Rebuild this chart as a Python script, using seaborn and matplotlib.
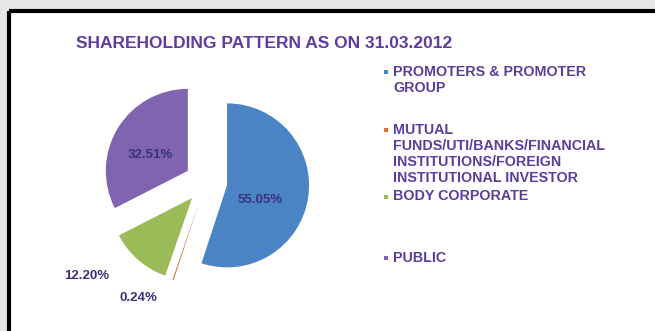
import matplotlib
matplotlib.use("Agg")
import matplotlib.pyplot as plt
import seaborn as sns
from matplotlib.patches import Rectangle

sns.set_theme(style="white")
plt.rcParams["font.family"] = ["Liberation Sans", "DejaVu Sans"]

# Shareholding categories and their percentages
categories = [
    "PROMOTERS & PROMOTER\nGROUP",
    "MUTUAL\nFUNDS/UTI/BANKS/FINANCIAL\nINSTITUTIONS/FOREIGN\nINSTITUTIONAL INVESTOR",
    "BODY CORPORATE",
    "PUBLIC",
]
shares = [55.05, 0.24, 12.20, 32.51]
colors = ["#4a84c4", "#e0733a", "#9bbb59", "#8064b0"]
title = "SHAREHOLDING PATTERN AS ON 31.03.2012"

W, H = 655, 331
fig = plt.figure(figsize=(W / 100, H / 100), dpi=100)
fig.patch.set_facecolor("#e6e6e6")

# white panel with a heavy black edge on top and left
fig.patches.append(Rectangle((10 / W, 0), 1, 1 - 11 / H, transform=fig.transFigure,
                             facecolor="white", edgecolor="none", zorder=-5))
fig.add_artist(plt.Line2D([9 / W, 1], [1 - 11 / H, 1 - 11 / H], color="black", lw=3,
                          transform=fig.transFigure, solid_capstyle="butt", zorder=-4))
fig.add_artist(plt.Line2D([9 / W, 9 / W], [0, 1 - 11 / H], color="black", lw=3,
                          transform=fig.transFigure, solid_capstyle="butt", zorder=-4))

# pie axes: one data unit equals the pie radius in pixels
R = 82.0
cx, cy = 206.0, 182.0
ax = fig.add_axes([0, 0, 1, 1], zorder=2)
ax.patch.set_alpha(0)

wedges, texts, autotexts = ax.pie(
    shares, colors=colors, startangle=90, counterclock=False,
    explode=[0.26] * len(shares), autopct="%.2f%%", pctdistance=0.5,
    wedgeprops=dict(linewidth=0),
    textprops=dict(color="#3a327e", fontsize=9.5, fontweight="bold"),
)
ax.set_aspect("auto")
ax.set_xlim(-cx / R, (W - cx) / R)
ax.set_ylim(-(H - cy) / R, cy / R)
ax.axis("off")

label_pos = [(0.66, -0.22), (-0.83, -1.41), (-1.45, -1.15), (-0.68, 0.33)]
for t, (x, y) in zip(autotexts, label_pos):
    t.set_position((x, y))
    t.set_ha("center")
    t.set_va("center")

fig.text(264 / W, 1 - 44 / H, title, ha="center", va="center",
         fontsize=12.5, fontweight="bold", color="#603c9e")

# legend entries
entry_y = [72, 130, 197, 258]
for name, col, y in zip(categories, colors, entry_y):
    fig.patches.append(Rectangle(((386 - 2) / W, 1 - (y + 2) / H), 4 / W, 4 / H,
                                 transform=fig.transFigure, facecolor=col, edgecolor="none"))
    fig.text(393 / W, 1 - (y - 7.5) / H, name, ha="left", va="top", fontsize=10.3,
             fontweight="bold", color="#5a3d9c", linespacing=1.2)

fig.savefig("out.png", dpi=100)
